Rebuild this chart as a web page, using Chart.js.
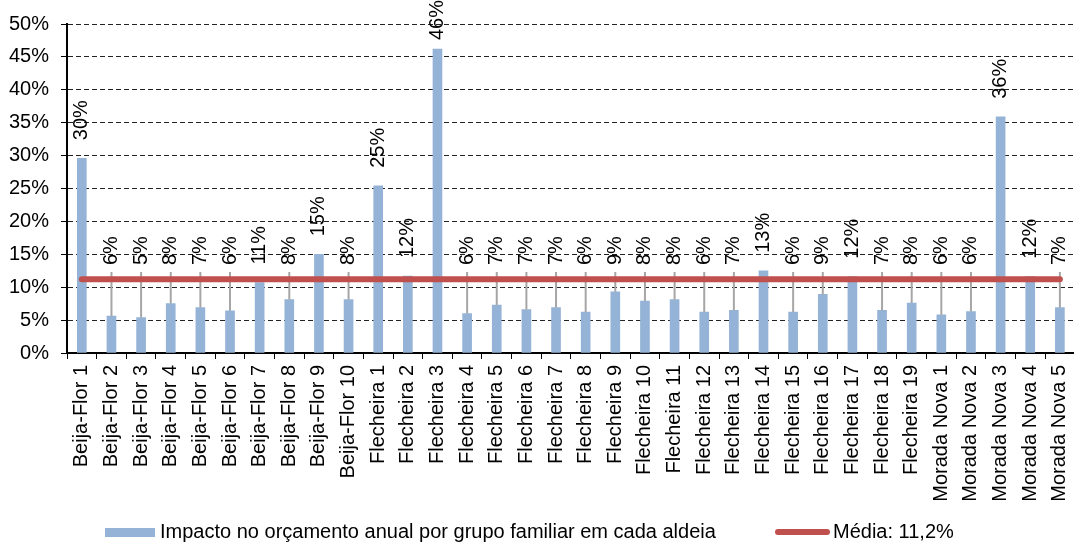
<!DOCTYPE html>
<html>
<head>
<meta charset="utf-8">
<script src="https://cdn.jsdelivr.net/npm/chart.js@4/dist/chart.umd.min.js"></script>
<style>
  body { margin: 0; overflow: hidden; background: #fff; }
  #wrap { position: relative; width: 1090px; height: 542px; }
  .leg { position: absolute; font: 20px "Liberation Sans", Arial, sans-serif; color: #000; white-space: nowrap; line-height: 22px; }
</style>
</head>
<body>
<div id="wrap">
  <canvas id="chart" width="1090" height="542"></canvas>
  <div class="leg" style="left:105px; top:528px; width:50px; height:9px; background:#95B3D7;"></div>
  <div class="leg" style="left:160px; top:520px;">Impacto no orçamento anual por grupo familiar em cada aldeia</div>
  <div class="leg" style="left:775px; top:529px; width:55px; height:6px; border-radius:3px; background:#C0504D;"></div>
  <div class="leg" style="left:833px; top:520px;">Média: 11,2%</div>
</div>
<script>
const categories = [
  'Beija-Flor 1', 'Beija-Flor 2', 'Beija-Flor 3', 'Beija-Flor 4', 'Beija-Flor 5',
  'Beija-Flor 6', 'Beija-Flor 7', 'Beija-Flor 8', 'Beija-Flor 9', 'Beija-Flor 10',
  'Flecheira 1', 'Flecheira 2', 'Flecheira 3', 'Flecheira 4', 'Flecheira 5',
  'Flecheira 6', 'Flecheira 7', 'Flecheira 8', 'Flecheira 9', 'Flecheira 10',
  'Flecheira 11', 'Flecheira 12', 'Flecheira 13', 'Flecheira 14', 'Flecheira 15',
  'Flecheira 16', 'Flecheira 17', 'Flecheira 18', 'Flecheira 19',
  'Morada Nova 1', 'Morada Nova 2', 'Morada Nova 3', 'Morada Nova 4', 'Morada Nova 5'
];

// impacto no orçamento anual (%)
const impacto = [
  29.6, 5.6, 5.4, 7.5, 6.9, 6.4, 10.7, 8.1, 15.0, 8.1,
  25.4, 11.7, 46.2, 6.0, 7.3, 6.6, 6.9, 6.2, 9.3, 7.9,
  8.1, 6.2, 6.5, 12.5, 6.2, 8.9, 11.6, 6.5, 7.6,
  5.8, 6.3, 35.9, 11.6, 6.9
];

const media = 11.2;
const yTicks = [0, 5, 10, 15, 20, 25, 30, 35, 40, 45, 50];

const FONT = '"Liberation Sans", Arial, sans-serif';
const LABEL_FLOOR = 265; // small bars get their label moved up to here

// labels above bars + gray leader lines for small bars
const barLabels = {
  id: 'barLabels',
  afterDatasetDraw(chart, args) {
    if (args.index !== 0) return;
    const ctx = chart.ctx;
    const meta = chart.getDatasetMeta(0);
    ctx.save();
    ctx.strokeStyle = '#A6A6A6';
    ctx.lineWidth = 2;
    meta.data.forEach((el) => {
      if (el.y - 18 <= LABEL_FLOOR) return;
      const start = LABEL_FLOOR + 7;
      if (el.y - start > 3) {
        ctx.beginPath();
        ctx.moveTo(el.x, start);
        ctx.lineTo(el.x, el.y);
        ctx.stroke();
      }
    });
    ctx.restore();
  },
  afterDatasetsDraw(chart) {
    const ctx = chart.ctx;
    const meta = chart.getDatasetMeta(0);
    ctx.save();
    ctx.font = '20px ' + FONT;
    ctx.fillStyle = '#000';
    ctx.textAlign = 'left';
    ctx.textBaseline = 'middle';
    meta.data.forEach((el, i) => {
      const txt = Math.round(impacto[i]) + '%';
      const w = ctx.measureText(txt).width;
      let bottom = Math.min(el.y - 18, LABEL_FLOOR);
      if (bottom - w < 0) bottom = w;
      ctx.save();
      ctx.translate(el.x, bottom);
      ctx.rotate(-Math.PI / 2);
      ctx.fillText(txt, 0, 0);
      ctx.restore();
    });
    ctx.restore();
  }
};

new Chart(document.getElementById('chart'), {
  data: {
    labels: categories,
    datasets: [
      {
        type: 'bar',
        label: 'Impacto no orçamento anual por grupo familiar em cada aldeia',
        data: impacto,
        backgroundColor: '#95B3D7',
        barThickness: 9,
        order: 1
      },
      {
        type: 'line',
        label: 'Média: 11,2%',
        data: categories.map(() => media),
        borderColor: '#C0504D',
        borderWidth: 6,
        borderCapStyle: 'round',
        pointRadius: 0,
        fill: false,
        order: 0
      }
    ]
  },
  options: {
    responsive: false,
    animation: false,
    layout: { padding: { top: 20, right: 8, left: 0, bottom: 0 } },
    plugins: {
      legend: { display: false },
      tooltip: { enabled: false }
    },
    scales: {
      x: {
        offset: true,
        grid: {
          display: true,
          drawOnChartArea: false,
          offset: true,
          tickLength: 6,
          tickColor: '#000',
          tickWidth: 1
        },
        border: { display: true, color: '#000', width: 2 },
        ticks: {
          autoSkip: false,
          minRotation: 90,
          maxRotation: 90,
          padding: 6,
          color: '#000',
          font: { family: FONT, size: 20 }
        },
        afterFit(scale) { scale.height = 189; }
      },
      y: {
        min: 0,
        max: 50,
        afterBuildTicks(scale) { scale.ticks = yTicks.map(v => ({ value: v })); },
        grid: {
          color: '#222',
          lineWidth: 1,
          tickLength: 6,
          tickColor: '#000',
          tickBorderDash: [],
          tickWidth: 1
        },
        border: { display: true, color: '#000', width: 2, dash: [5, 3] },
        ticks: {
          padding: 12,
          color: '#000',
          font: { family: FONT, size: 20 },
          callback: v => v + '%'
        },
        afterFit(scale) { scale.width = 67; }
      }
    }
  },
  plugins: [barLabels]
});
</script>
</body>
</html>
